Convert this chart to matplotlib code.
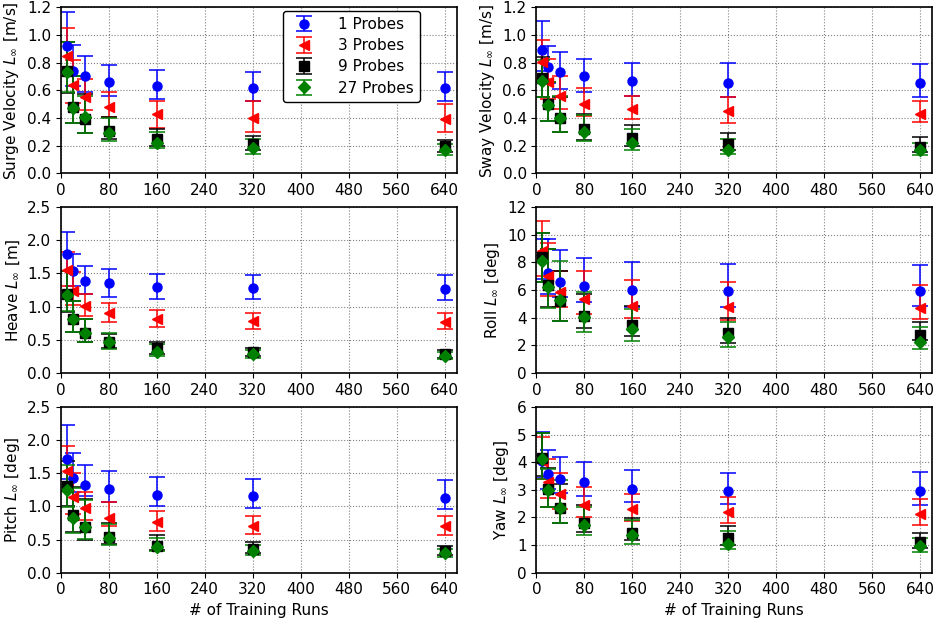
import numpy as np
import matplotlib
matplotlib.use("Agg")
import matplotlib.pyplot as plt

# number of training runs (x axis)
runs = [10, 20, 40, 80, 160, 320, 640]
probes = ["1 Probes", "3 Probes", "9 Probes", "27 Probes"]

# each block: one row per probe count (1, 3, 9, 27), value / upper / lower end of bar
surge_val = [[0.92, 0.74, 0.70, 0.66, 0.63, 0.62, 0.62],
             [0.85, 0.64, 0.55, 0.48, 0.43, 0.40, 0.39],
             [0.74, 0.48, 0.39, 0.305, 0.25, 0.21, 0.20],
             [0.73, 0.47, 0.405, 0.29, 0.22, 0.18, 0.17]]
surge_hi = [[1.17, 0.93, 0.85, 0.785, 0.75, 0.73, 0.735],
            [1.05, 0.82, 0.68, 0.59, 0.52, 0.52, 0.50],
            [0.95, 0.70, 0.57, 0.405, 0.32, 0.27, 0.24],
            [0.95, 0.70, 0.56, 0.40, 0.30, 0.25, 0.21]]
surge_lo = [[0.74, 0.63, 0.59, 0.56, 0.54, 0.52, 0.52],
            [0.70, 0.51, 0.46, 0.405, 0.33, 0.30, 0.30],
            [0.58, 0.36, 0.29, 0.245, 0.20, 0.17, 0.15],
            [0.59, 0.36, 0.29, 0.235, 0.18, 0.14, 0.13]]

sway_val = [[0.895, 0.77, 0.73, 0.70, 0.665, 0.65, 0.65],
            [0.805, 0.66, 0.56, 0.50, 0.465, 0.45, 0.43],
            [0.69, 0.50, 0.40, 0.317, 0.257, 0.21, 0.19],
            [0.67, 0.49, 0.40, 0.296, 0.22, 0.17, 0.165]]
sway_hi = [[1.10, 0.92, 0.875, 0.83, 0.80, 0.80, 0.79],
           [0.967, 0.83, 0.70, 0.62, 0.56, 0.55, 0.52],
           [0.84, 0.66, 0.555, 0.43, 0.35, 0.29, 0.26],
           [0.82, 0.66, 0.56, 0.42, 0.32, 0.25, 0.22]]
sway_lo = [[0.74, 0.65, 0.61, 0.587, 0.56, 0.55, 0.55],
           [0.68, 0.54, 0.465, 0.415, 0.39, 0.36, 0.37],
           [0.555, 0.38, 0.30, 0.24, 0.20, 0.165, 0.15],
           [0.55, 0.38, 0.30, 0.23, 0.17, 0.14, 0.13]]

heave_val = [[1.80, 1.53, 1.39, 1.35, 1.29, 1.28, 1.27],
             [1.56, 1.23, 1.01, 0.91, 0.82, 0.78, 0.77],
             [1.19, 0.82, 0.60, 0.47, 0.37, 0.31, 0.29],
             [1.18, 0.81, 0.60, 0.46, 0.32, 0.28, 0.26]]
heave_hi = [[2.12, 1.80, 1.62, 1.57, 1.49, 1.48, 1.47],
            [1.83, 1.52, 1.19, 1.05, 0.95, 0.91, 0.90],
            [1.53, 1.09, 0.82, 0.59, 0.47, 0.38, 0.35],
            [1.53, 1.08, 0.82, 0.60, 0.43, 0.35, 0.31]]
heave_lo = [[1.53, 1.31, 1.19, 1.15, 1.12, 1.11, 1.10],
            [1.31, 1.03, 0.86, 0.77, 0.70, 0.67, 0.66],
            [0.92, 0.62, 0.47, 0.38, 0.29, 0.25, 0.23],
            [0.93, 0.62, 0.47, 0.36, 0.25, 0.22, 0.21]]

roll_val = [[8.3, 7.2, 6.6, 6.3, 6.0, 5.95, 5.95],
            [8.83, 7.0, 5.87, 5.35, 4.87, 4.8, 4.7],
            [8.4, 6.35, 5.2, 4.12, 3.48, 2.9, 2.77],
            [8.08, 6.24, 5.28, 4.03, 3.17, 2.6, 2.26]]
roll_hi = [[9.7, 9.66, 8.87, 8.32, 8.03, 7.9, 7.83],
           [10.98, 9.4, 7.36, 7.36, 6.76, 6.6, 6.4],
           [10.1, 9.0, 7.4, 5.75, 4.84, 4.0, 3.69],
           [10.1, 8.95, 8.1, 5.83, 4.6, 3.7, 3.3]]
roll_lo = [[6.8, 5.7, 5.47, 5.16, 4.8, 4.8, 4.86],
           [7.0, 5.56, 4.75, 4.24, 3.96, 3.8, 3.9],
           [6.6, 4.8, 3.76, 3.24, 2.69, 2.2, 2.4],
           [6.6, 4.72, 3.79, 3.0, 2.33, 1.9, 1.71]]

pitch_val = [[1.71, 1.43, 1.33, 1.26, 1.17, 1.15, 1.13],
             [1.53, 1.14, 0.98, 0.83, 0.76, 0.71, 0.70],
             [1.31, 0.87, 0.69, 0.54, 0.41, 0.35, 0.32],
             [1.25, 0.83, 0.69, 0.52, 0.39, 0.32, 0.29]]
pitch_hi = [[2.22, 1.81, 1.63, 1.53, 1.44, 1.41, 1.40],
            [1.91, 1.51, 1.21, 1.07, 0.93, 0.86, 0.85],
            [1.68, 1.29, 1.11, 0.75, 0.57, 0.46, 0.40],
            [1.62, 1.27, 1.10, 0.74, 0.52, 0.42, 0.36]]
pitch_lo = [[1.41, 1.21, 1.15, 1.06, 1.00, 0.98, 0.96],
            [1.23, 0.89, 0.79, 0.70, 0.63, 0.59, 0.57],
            [1.01, 0.61, 0.50, 0.43, 0.34, 0.29, 0.27],
            [0.99, 0.60, 0.51, 0.42, 0.32, 0.26, 0.24]]

yaw_val = [[4.04, 3.56, 3.38, 3.29, 3.04, 2.97, 2.97],
           [4.05, 3.29, 2.86, 2.45, 2.32, 2.2, 2.12],
           [4.14, 3.02, 2.35, 1.81, 1.45, 1.25, 1.12],
           [4.12, 2.99, 2.33, 1.73, 1.35, 1.05, 0.95]]
yaw_hi = [[5.1, 4.44, 4.19, 4.0, 3.72, 3.62, 3.65],
          [4.9, 4.12, 3.62, 3.1, 2.86, 2.75, 2.65],
          [5.07, 3.8, 3.2, 2.44, 1.97, 1.7, 1.45],
          [5.07, 3.76, 3.34, 2.38, 1.89, 1.5, 1.25]]
yaw_lo = [[3.41, 3.04, 2.9, 2.77, 2.56, 2.5, 2.45],
          [3.4, 2.71, 2.29, 2.01, 1.87, 1.8, 1.72],
          [3.5, 2.38, 1.81, 1.48, 1.17, 1.0, 0.9],
          [3.4, 2.38, 1.79, 1.36, 1.05, 0.85, 0.75]]

colors = ["blue", "red", "black", "green"]
markers = ["o", "<", "s", "D"]

plt.rcParams["font.size"] = 11
plt.rcParams["mathtext.fontset"] = "dejavusans"

fig, axes = plt.subplots(3, 2, figsize=(9.35, 6.18), dpi=100)
fig.subplots_adjust(left=0.0652, right=0.9968, top=0.988, bottom=0.0733,
                    wspace=0.202, hspace=0.205)

panels = [
    (axes[0, 0], surge_val, surge_lo, surge_hi, r"Surge Velocity $L_\infty$ [m/s]", 1.2, 0.2),
    (axes[0, 1], sway_val, sway_lo, sway_hi, r"Sway Velocity $L_\infty$ [m/s]", 1.2, 0.2),
    (axes[1, 0], heave_val, heave_lo, heave_hi, r"Heave $L_\infty$ [m]", 2.5, 0.5),
    (axes[1, 1], roll_val, roll_lo, roll_hi, r"Roll $L_\infty$ [deg]", 12, 2),
    (axes[2, 0], pitch_val, pitch_lo, pitch_hi, r"Pitch $L_\infty$ [deg]", 2.5, 0.5),
    (axes[2, 1], yaw_val, yaw_lo, yaw_hi, r"Yaw $L_\infty$ [deg]", 6, 1),
]

for ax, val, lo, hi, ylabel, ymax, ystep in panels:
    for i in range(4):
        v = np.array(val[i])
        err = [v - np.array(lo[i]), np.array(hi[i]) - v]
        ax.errorbar(runs, v, yerr=err, fmt=markers[i], color=colors[i],
                    ecolor=colors[i], markersize=6.5, capsize=6, elinewidth=1.1,
                    capthick=1.1, label=probes[i])
    ax.set_xlim(0, 660)
    ax.set_ylim(0, ymax)
    ax.set_xticks(np.arange(0, 641, 80))
    ax.set_yticks(np.arange(0, ymax + ystep / 2, ystep))
    if ymax < 5:
        ax.set_yticklabels(["%.1f" % t for t in np.arange(0, ymax + ystep / 2, ystep)])
    ax.grid(True, linestyle=":", color="0.5", linewidth=0.8)
    ax.set_axisbelow(True)
    ax.set_ylabel(ylabel)
    for s in ax.spines.values():
        s.set_linewidth(1.2)

axes[2, 0].set_xlabel("# of Training Runs")
axes[2, 1].set_xlabel("# of Training Runs")

leg = axes[0, 0].legend(loc="upper right", bbox_to_anchor=(0.907, 0.978),
                        borderaxespad=0, framealpha=1, fontsize=11,
                        handletextpad=1.2, labelspacing=0.4)
leg.get_frame().set_edgecolor("black")

fig.savefig("out.png", dpi=100)
